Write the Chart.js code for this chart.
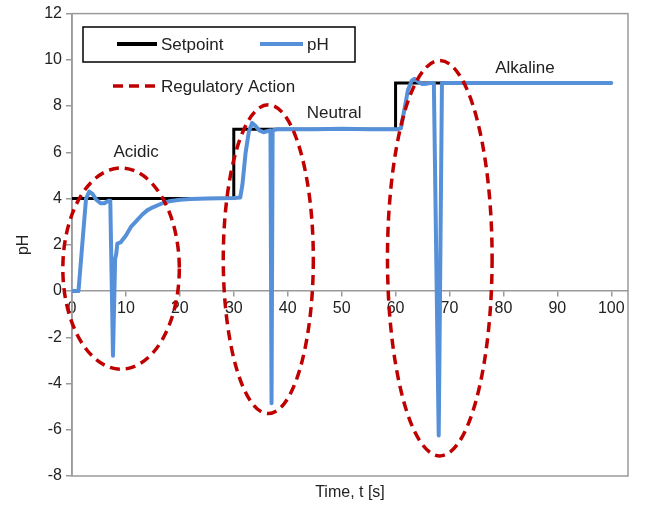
<!DOCTYPE html>
<html>
<head>
<meta charset="utf-8">
<script src="https://cdn.jsdelivr.net/npm/chart.js@4.4.1/dist/chart.umd.min.js"></script>
<style>
html, body { margin: 0; padding: 0; background: #fff; }
#wrap { width: 650px; height: 511px; }
</style>
</head>
<body>
<div id="wrap"><canvas id="chart" width="650" height="511"></canvas></div>
<script>
// tick labels
const xTicks = [0, 10, 20, 30, 40, 50, 60, 70, 80, 90, 100];
const yTicks = [-8, -6, -4, -2, 0, 2, 4, 6, 8, 10, 12];

// setpoint (step)
const setTime  = [0, 30, 30, 60, 60, 100];
const setValue = [4, 4, 7, 7, 9, 9];

// measured pH
const phTime = [0, 1.2, 1.9, 2.6, 3.2, 3.8, 4.5, 5.3, 6.0, 6.7, 7.1, 7.6, 8.0, 8.2, 8.4, 9, 10, 11, 12, 13, 14, 15, 16, 17, 18, 19, 20, 22, 25, 30,
    31.2, 31.6, 32.2, 32.8, 33.4, 34.0, 34.7, 35.5, 36.3, 36.8, 37.0, 37.2, 38, 45, 50, 55, 60.5,
    61.0, 61.6, 62.3, 63.0, 63.5, 64.2, 65.0, 65.8, 66.5, 67.1, 68.0, 68.6, 70, 80, 90, 100];
const phValue = [0, 0, 2.0, 4.0, 4.3, 4.2, 3.95, 3.8, 3.8, 3.9, 3.9, -2.8, 1.4, 1.6, 2.05, 2.1, 2.4, 2.8, 3.05, 3.3, 3.5, 3.62, 3.72, 3.82, 3.88, 3.92, 3.95, 3.98, 4.0, 4.02,
    4.05, 4.6, 6.0, 6.9, 7.27, 7.15, 6.95, 6.87, 6.92, 6.95, -4.85, 6.95, 7.0, 7.0, 7.02, 7.0, 7.0,
    7.05, 7.8, 8.7, 9.1, 9.18, 9.05, 8.95, 8.97, 9.0, 9.0, -6.25, 9.0, 9.0, 9.0, 9.0, 9.0];

// regulatory action regions: centre and half-axes in data units
const regionNames = ['Acidic', 'Neutral', 'Alkaline'];
const regionCx = [9.1, 36.4, 68.2];
const regionCy = [0.97, 1.38, 1.42];
const regionRx = [10.8, 8.35, 9.7];
const regionRy = [4.35, 6.68, 8.55];
const labelX = [11.9, 48.6, 84.0];
const labelY = [6.0, 7.7, 9.63];

const toXY = (xs, ys) => xs.map((x, i) => ({x: x, y: ys[i]}));

const FONT = '"Liberation Sans", Arial, sans-serif';
const RED = '#C00000';
const BLUE = '#5590D8';

// рамка, эллипсы, подписи, легенда
const decor = {
    id: 'decor',
    beforeDatasetsDraw(chart) {
        const {ctx, chartArea: a} = chart;
        ctx.save();
        ctx.strokeStyle = '#9a9a9a';
        ctx.lineWidth = 1.5;
        ctx.strokeRect(a.left, a.top, a.right - a.left, a.bottom - a.top);
        ctx.restore();
    },
    afterDatasetsDraw(chart) {
        const {ctx, chartArea: a, scales: {x, y}} = chart;
        ctx.save();
        // ellipses
        ctx.strokeStyle = RED;
        ctx.lineWidth = 3.5;
        ctx.setLineDash([10, 6]);
        regionNames.forEach((n, i) => {
            const cx = x.getPixelForValue(regionCx[i]);
            const cy = y.getPixelForValue(regionCy[i]);
            const rx = Math.abs(x.getPixelForValue(regionCx[i] + regionRx[i]) - cx);
            const ry = Math.abs(y.getPixelForValue(regionCy[i] + regionRy[i]) - cy);
            ctx.beginPath();
            ctx.ellipse(cx, cy, rx, ry, 0, 0, Math.PI * 2);
            ctx.stroke();
        });
        ctx.setLineDash([]);

        // region labels
        ctx.fillStyle = '#222';
        ctx.font = '17px ' + FONT;
        ctx.textAlign = 'center';
        ctx.textBaseline = 'middle';
        regionNames.forEach((n, i) => {
            ctx.fillText(n, x.getPixelForValue(labelX[i]), y.getPixelForValue(labelY[i]));
        });

        // legend
        const ds = chart.data.datasets;
        ctx.fillStyle = '#fff';
        ctx.fillRect(83, 27, 272, 35);
        ctx.strokeStyle = '#000';
        ctx.lineWidth = 1.5;
        ctx.strokeRect(83, 27, 272, 35);
        ctx.textAlign = 'left';
        ctx.fillStyle = '#222';
        const items = [
            {x0: 117, x1: 157, y: 44, color: ds[0].borderColor, w: 4, dash: [], text: ds[0].label},
            {x0: 260, x1: 303, y: 44, color: ds[1].borderColor, w: 4, dash: [], text: ds[1].label},
            {x0: 113, x1: 157, y: 86, color: RED, w: 3.5, dash: [10, 6], text: 'Regulatory Action'}
        ];
        items.forEach(it => {
            ctx.strokeStyle = it.color;
            ctx.lineWidth = it.w;
            ctx.setLineDash(it.dash);
            ctx.beginPath();
            ctx.moveTo(it.x0, it.y);
            ctx.lineTo(it.x1, it.y);
            ctx.stroke();
            ctx.setLineDash([]);
            ctx.fillText(it.text, it.x1 + 4, it.y + 1);
        });

        // x axis title
        ctx.textAlign = 'center';
        ctx.font = '16px ' + FONT;
        ctx.fillText('Time, t [s]', (a.left + a.right) / 2, 493);
        ctx.restore();
    }
};

new Chart(document.getElementById('chart'), {
    type: 'line',
    data: {
        datasets: [{
            label: 'Setpoint',
            data: toXY(setTime, setValue),
            borderColor: '#000',
            borderWidth: 3,
            pointRadius: 0,
            tension: 0,
            order: 1
        }, {
            label: 'pH',
            data: toXY(phTime, phValue),
            borderColor: BLUE,
            borderWidth: 4,
            pointRadius: 0,
            tension: 0,
            borderJoinStyle: 'round',
            borderCapStyle: 'round',
            order: 0
        }]
    },
    options: {
        responsive: false,
        animation: false,
        devicePixelRatio: 1,
        layout: { padding: { left: 0, right: 22, top: 12, bottom: 35 } },
        plugins: {
            legend: { display: false },
            tooltip: { enabled: false }
        },
        scales: {
            x: {
                type: 'linear',
                position: { y: 0 },
                min: 0,
                max: 103.1,
                afterBuildTicks: s => { s.ticks = xTicks.map(v => ({value: v})); },
                grid: { drawOnChartArea: false, tickLength: 5, color: '#9a9a9a', lineWidth: 1.5 },
                border: { color: '#9a9a9a', width: 1.5 },
                ticks: { color: '#222', font: { family: FONT, size: 16 }, padding: 3, maxRotation: 0 }
            },
            y: {
                min: -8,
                max: 12,
                afterBuildTicks: s => { s.ticks = yTicks.map(v => ({value: v})); },
                afterFit: s => { s.width = 72; },
                grid: { drawOnChartArea: false, tickLength: 6, color: '#9a9a9a', lineWidth: 1.5 },
                border: { color: '#9a9a9a', width: 1.5 },
                ticks: { color: '#222', font: { family: FONT, size: 16 }, padding: 4 },
                title: { display: true, text: 'pH', color: '#222', font: { family: FONT, size: 16 }, padding: { top: 14 } }
            }
        }
    },
    plugins: [decor]
});
</script>
</body>
</html>
